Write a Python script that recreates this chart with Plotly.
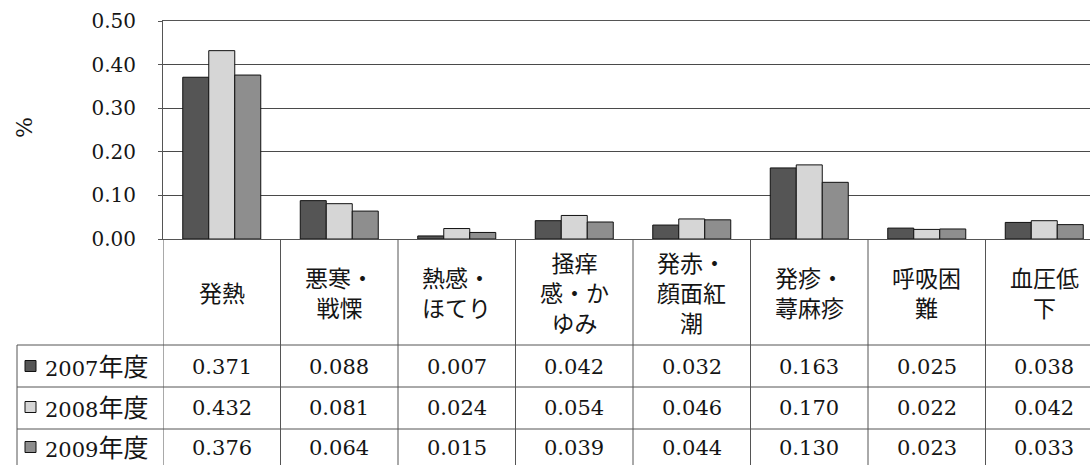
import plotly.graph_objects as go

# ---------------- data ----------------
categories = ["発熱", "悪寒・戦慄", "熱感・ほてり", "掻痒感・かゆみ",
              "発赤・顔面紅潮", "発疹・蕁麻疹", "呼吸困難", "血圧低下"]
header_lines = [["発熱"], ["悪寒・", "戦慄"], ["熱感・", "ほてり"], ["掻痒", "感・か", "ゆみ"],
                ["発赤・", "顔面紅", "潮"], ["発疹・", "蕁麻疹"], ["呼吸困", "難"], ["血圧低", "下"]]
series_years = ["2007", "2008", "2009"]
series_suffix = "年度"
v2007 = [0.371, 0.088, 0.007, 0.042, 0.032, 0.163, 0.025, 0.038]
v2008 = [0.432, 0.081, 0.024, 0.054, 0.046, 0.170, 0.022, 0.042]
v2009 = [0.376, 0.064, 0.015, 0.039, 0.044, 0.130, 0.023, 0.033]
y_ticks = [0.0, 0.1, 0.2, 0.3, 0.4, 0.5]
y_label = "%"

# ---------------- layout geometry ----------------
W, H = 1090, 465
L, T, B_PX = 163, 21, 239          # plot area left, top, bottom (pixels)
COL_W = 117.5                       # width of one category column (pixels)
PW = W - L
PH = B_PX - T

def px(xp):
    return (xp - L) / PW

def py(yp):
    return (B_PX - yp) / PH

colors = ["#555555", "#d6d6d6", "#8e8e8e"]
line_col = "#555555"
txt_col = "#151515"
serif = "'DejaVu Serif', serif"
cjk = "'Noto Sans CJK JP', sans-serif"

fig = go.Figure()
for year, vals, col in zip(series_years, [v2007, v2008, v2009], colors):
    fig.add_trace(go.Bar(
        x=categories, y=vals, name=year + series_suffix,
        marker=dict(color=col, line=dict(color="#111111", width=1)),
        showlegend=False,
    ))

shapes = []
annotations = []

# vertical table lines at category boundaries
for k in range(len(categories)):
    shapes.append(dict(type="line", xref="x", yref="paper",
                       x0=k - 0.5, x1=k - 0.5, y0=py(B_PX), y1=py(H + 5),
                       line=dict(color=line_col, width=1)))
# legend column left border
shapes.append(dict(type="line", xref="paper", yref="paper",
                   x0=px(17), x1=px(17), y0=py(345), y1=py(H + 5),
                   line=dict(color=line_col, width=1)))
# horizontal table lines
for yl in [345, 387, 429]:
    shapes.append(dict(type="line", xref="paper", yref="paper",
                       x0=px(17), x1=1.0, y0=py(yl), y1=py(yl),
                       line=dict(color=line_col, width=1)))

# header (category names)
HEAD_C = 292
for cat, lines in zip(categories, header_lines):
    annotations.append(dict(xref="x", yref="paper", x=cat, y=py(HEAD_C),
                            text="<br>".join(lines), showarrow=False,
                            xanchor="center", yanchor="middle", align="center",
                            font=dict(family=cjk, size=23, color=txt_col)))

# data rows
row_centers = [366, 407, 447]
for r, (year, vals, col) in enumerate(zip(series_years, [v2007, v2008, v2009], colors)):
    yc = row_centers[r]
    shapes.append(dict(type="rect", xref="paper", yref="paper",
                       x0=px(25), x1=px(36), y0=py(yc - 5.5), y1=py(yc + 5.5),
                       fillcolor=col, line=dict(color="#111111", width=1)))
    annotations.append(dict(xref="paper", yref="paper", x=px(43), y=py(yc - 1),
                            text=year + "<span style='font-family:Noto Sans CJK JP;font-size:25px'>"
                            + series_suffix + "</span>",
                            showarrow=False, xanchor="left", yanchor="middle",
                            font=dict(family=serif, size=21, color=txt_col)))
    for cat, v in zip(categories, vals):
        annotations.append(dict(xref="x", yref="paper", x=cat, y=py(yc + 1),
                                text=f"{v:.3f}", showarrow=False,
                                xanchor="center", yanchor="middle",
                                font=dict(family=serif, size=21, color=txt_col)))

# y-axis label
annotations.append(dict(xref="paper", yref="paper", x=px(24), y=py(128),
                        text=y_label, showarrow=False, textangle=-90,
                        xanchor="center", yanchor="middle",
                        font=dict(family=serif, size=22, color=txt_col)))

fig.update_layout(
    width=W, height=H,
    margin=dict(l=L, r=0, t=T, b=H - B_PX, pad=0),
    paper_bgcolor="white", plot_bgcolor="white",
    barmode="group", bargap=1 - 78 / COL_W, bargroupgap=0,
    shapes=shapes, annotations=annotations,
    xaxis=dict(type="category", range=[-0.5, -0.5 + PW / COL_W],
               showticklabels=False, ticks="", showgrid=False,
               showline=True, linecolor=line_col, linewidth=1, mirror=True,
               fixedrange=True),
    yaxis=dict(range=[0, 0.5], tickvals=y_ticks, tickformat=".2f",
               showgrid=True, gridcolor="#4a4a4a", gridwidth=1,
               showline=True, linecolor=line_col, linewidth=1,
               ticks="outside", ticklen=4, tickcolor=line_col,
               ticklabelstandoff=18, zeroline=False,
               tickfont=dict(family=serif, size=20, color=txt_col),
               fixedrange=True),
)

fig.write_html("out.html")
